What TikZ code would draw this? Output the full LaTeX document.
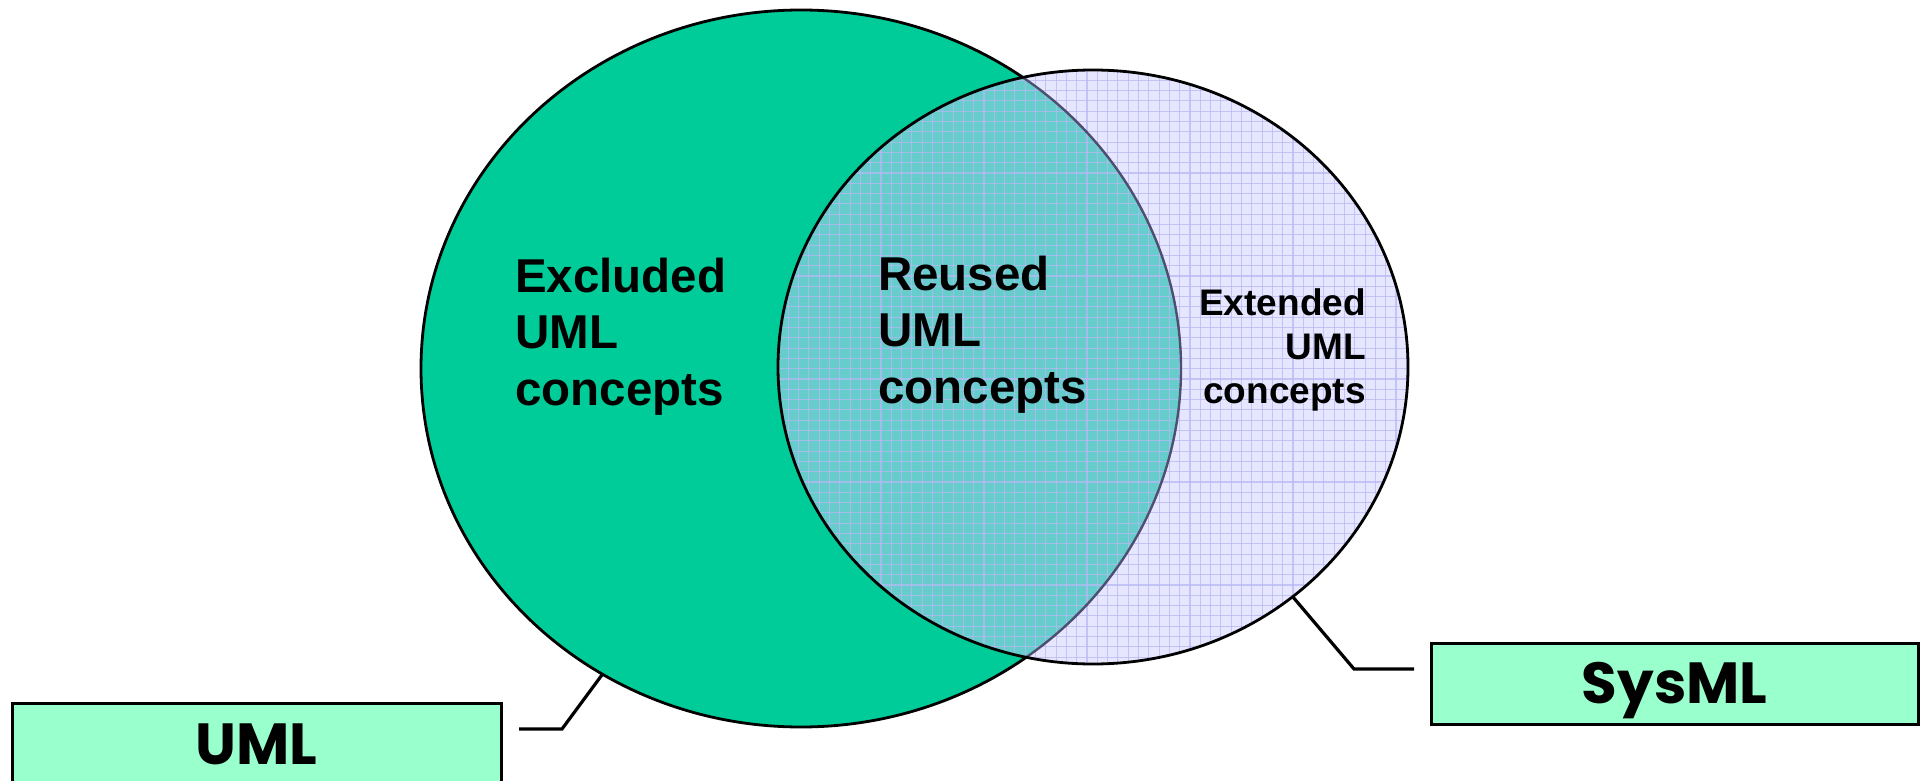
\documentclass[tikz,border=0pt]{standalone}
\usepackage{fontspec}
\setmainfont{Liberation Sans}
\newfontfamily\tagfont{Poppins}
\usetikzlibrary{shapes.geometric}

\definecolor{umlgreen}{HTML}{00CC99}
\definecolor{sysfill}{HTML}{E6E6FF}
\definecolor{overlapfill}{HTML}{66CCCC}
\definecolor{gridline}{HTML}{B8B8F4}
\definecolor{tagfill}{HTML}{99FFCC}
\definecolor{hiddenrim}{HTML}{4E4E70}

\tikzset{
  setshape/.style={ellipse, inner sep=0pt, outer sep=0pt},
  tagframe/.style={draw=black, line width=3pt, fill=tagfill},
  tagtext/.style={inner sep=0pt, font=\tagfont\bfseries\fontsize{58}{60}\selectfont,
    text height=40pt, text depth=0pt},
  leader/.style={draw=black, line width=3.2pt},
  bigtext/.style={inner sep=0pt, font=\bfseries\fontsize{47.5}{56.5}\selectfont},
  smalltext/.style={inner sep=0pt, font=\bfseries\fontsize{37}{44}\selectfont},
}

\begin{document}
\begin{tikzpicture}[x=1pt, y=-1pt]
  \useasboundingbox (0,0) rectangle (1925,781);
  \clip (0,0) rectangle (1925,781);

  % UML set
  \fill[umlgreen] (801,368.5) ellipse [x radius=380, y radius=358.5];
  \node[setshape, draw=black, line width=2.8pt, minimum width=760pt, minimum height=717pt]
    (uml) at (801,368.5) {};

  % SysML set, base fill
  \fill[sysfill] (1093,367) ellipse [x radius=315, y radius=297];

  \begin{scope}
    \clip (1093,367) ellipse [x radius=315, y radius=297];
    % overlap of both sets
    \fill[overlapfill] (801,368.5) ellipse [x radius=380, y radius=358.5];
    % grid texture over the SysML set
    \foreach \gx in {778,788.3,...,1410} {
      \draw[gridline, opacity=0.75, line width=1.1pt] (\gx,60) -- (\gx,680);
    }
    \foreach \gy in {70,80.3,...,670} {
      \draw[gridline, opacity=0.75, line width=1.1pt] (770,\gy) -- (1415,\gy);
    }
    % UML rim seen through the SysML set
    \draw[hiddenrim, line width=2.4pt] (801,368.5) ellipse [x radius=380, y radius=358.5];
  \end{scope}

  \node[setshape, draw=black, line width=2.8pt, minimum width=630pt, minimum height=594pt]
    (sysml) at (1093,367) {};

  % region labels
  \node[bigtext, anchor=base west] (excluded) at (515,292)
    {\begin{tabular}[t]{@{}l@{}}Excluded\\UML\\concepts\end{tabular}};
  \node[bigtext, anchor=base west] (reused) at (878,290)
    {\begin{tabular}[t]{@{}l@{}}Reused\\UML\\concepts\end{tabular}};
  \node[smalltext, anchor=base east] (extended) at (1366,315)
    {\begin{tabular}[t]{@{}r@{}}Extended\\UML\\concepts\end{tabular}};

  % name tags (the UML frame runs past the lower edge)
  \draw[tagframe] (12,703) rectangle (501,800);
  \node[tagtext] (umltag) at (256.5,744) {UML};
  \draw[tagframe] (1431,643) rectangle (1918,724);
  \node[tagtext] (systag) at (1674.5,683.5) {SysML};

  % leader lines from tags to sets
  \coordinate (umlbend) at (562,729);
  \coordinate (umlend) at (519,729);
  \coordinate (sysbend) at (1354,669);
  \coordinate (sysend) at (1414,669);
  \draw[leader] (uml.237.8) -- (umlbend) -- (umlend);
  \draw[leader] (sysml.311) -- (sysbend) -- (sysend);
\end{tikzpicture}
\end{document}
